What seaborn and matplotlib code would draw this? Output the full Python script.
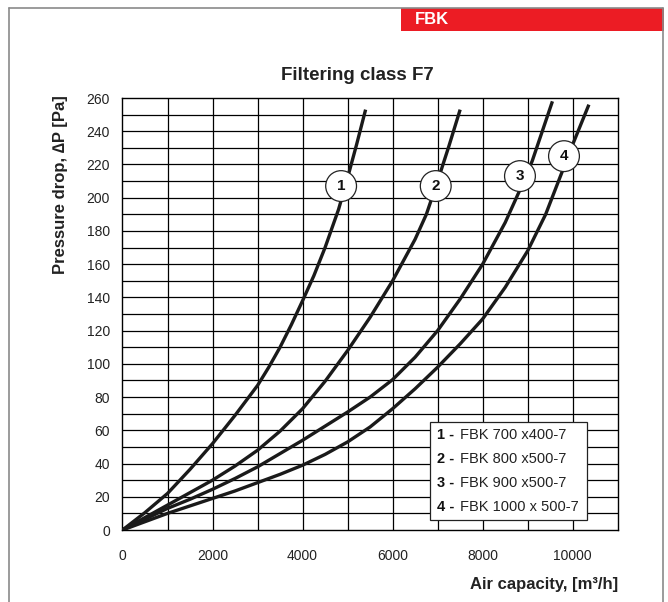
import matplotlib
matplotlib.use("Agg")
import matplotlib.pyplot as plt
import seaborn as sns
import pandas as pd
from matplotlib.lines import Line2D
from matplotlib.patches import Rectangle

# ---- data ----
curve1_x = [0, 500, 1000, 1500, 2000, 2500, 3000, 3250, 3500, 3750, 4000, 4250, 4500, 4800, 5000,
            5200, 5400]
curve1_y = [0, 10.5, 22, 36.5, 52, 69, 87, 98, 110, 123.5, 138, 153, 170, 193, 212, 232, 253]
curve2_x = [0, 500, 1000, 1500, 2000, 2500, 3000, 3500, 4000, 4500, 5000, 5500, 6000, 6500, 6750,
            7000, 7250, 7500]
curve2_y = [0, 7.5, 15, 22.5, 30, 38.5, 48, 59.5, 73, 89.5, 108, 128, 150, 175, 190, 210, 231, 253]
curve3_x = [0, 500, 1000, 1500, 2000, 2500, 3000, 3500, 4000, 4500, 5000, 5500, 6000, 6500, 7000,
            7500, 8000, 8500, 8800, 9100, 9550]
curve3_y = [0, 6.5, 13, 18.5, 24.5, 31, 38, 46, 54, 62.5, 71, 80, 90.5, 104, 120, 139, 160, 185,
            203, 222, 258]
curve4_x = [0, 500, 1000, 1500, 2000, 2500, 3000, 3500, 4000, 4500, 5000, 5500, 6000, 6500, 7000,
            7500, 8000, 8500, 9000, 9400, 9700, 10000, 10360]
curve4_y = [0, 5, 10, 14.5, 19, 23.5, 28.5, 33.5, 39, 45.5, 53, 62, 73, 85, 98, 112, 127, 146, 168,
            190, 211, 232, 256]

curve_ids = ["1", "2", "3", "4"]
curve_names = ["FBK 700 x400-7", "FBK 800 x500-7", "FBK 900 x500-7", "FBK 1000 x 500-7"]
label_x = [4856, 6958, 8829, 9807]
label_y = [207, 207, 213, 225]

x_ticks = [0, 2000, 4000, 6000, 8000, 10000]
y_ticks = list(range(0, 261, 20))

title = "Filtering class F7"
x_label = "Air capacity, [m³/h]"
y_label = "Pressure drop, ∆P [Pa]"
brand = "FBK"

# ---- build long table ----
rows = []
for cid, xs, ys in zip(curve_ids, [curve1_x, curve2_x, curve3_x, curve4_x],
                       [curve1_y, curve2_y, curve3_y, curve4_y]):
    for xv, yv in zip(xs, ys):
        rows.append({"curve": cid, "x": xv, "y": yv})
df = pd.DataFrame(rows)

sns.set_style("white")
plt.rcParams["font.family"] = ["Liberation Sans", "DejaVu Sans"]

W, H = 668, 602
fig = plt.figure(figsize=(W / 100, H / 100), dpi=100)
L, R, T, B = 122.5, 617.7, 98, 530
ax = fig.add_axes([L / W, 1 - B / H, (R - L) / W, (B - T) / H])

# grid
for gx in range(1000, 11000, 1000):
    ax.axvline(gx, color="black", lw=0.9, zorder=1)
for gy in range(10, 260, 10):
    ax.axhline(gy, color="black", lw=0.9, zorder=1)

sns.lineplot(data=df, x="x", y="y", hue="curve", palette=["#1a1a1a"] * 4,
             sort=False, estimator=None, legend=False, lw=2.4, ax=ax, zorder=3)
for ln in ax.lines:
    ln.set_solid_joinstyle("round")
    ln.set_solid_capstyle("butt")

ax.set_xlim(0, 11000)
ax.set_ylim(0, 260)
ax.set_xticks(x_ticks)
ax.set_yticks(y_ticks)
ax.set_xticklabels([str(v) for v in x_ticks], fontsize=10, color="#222222")
ax.set_yticklabels([str(v) for v in y_ticks], fontsize=10, color="#222222")
ax.tick_params(axis="both", direction="out", length=5, width=0.9, color="black", pad=9)
ax.tick_params(axis="y", pad=4)
for sp in ax.spines.values():
    sp.set_color("black")
    sp.set_linewidth(1.0)
ax.set_xlabel("")
ax.set_ylabel("")

# circled labels
for cid, lx, ly in zip(curve_ids, label_x, label_y):
    ax.text(lx, ly, cid, ha="center", va="center", fontsize=11, fontweight="bold",
            color="#111111", zorder=5,
            bbox=dict(boxstyle="circle,pad=0.55", fc="white", ec="#222222", lw=0.9))

# legend box drawn by hand (bold numbers, regular names)
def px_to_ax(xp, yp):
    return (xp - L) / (R - L), (B - yp) / (B - T)

bx0, by0 = px_to_ax(430, 520)
bx1, by1 = px_to_ax(587, 422)
ax.add_patch(Rectangle((bx0, by0), bx1 - bx0, by1 - by0, transform=ax.transAxes,
                       fc="white", ec="#222222", lw=0.9, zorder=6))
for i, (cid, nm) in enumerate(zip(curve_ids, curve_names)):
    yp = 435 + i * 24
    xa, ya = px_to_ax(437, yp)
    ax.text(xa, ya, cid + " -", transform=ax.transAxes, ha="left", va="center",
            fontsize=10.5, fontweight="bold", color="#111111", zorder=7)
    xb, _ = px_to_ax(459.5, yp)
    ax.text(xb, ya, nm, transform=ax.transAxes, ha="left", va="center",
            fontsize=10.5, color="#222222", zorder=7)

# texts
fig.text(357 / W, 1 - 76 / H, title, ha="center", va="center", fontsize=13.5, fontweight="bold",
         color="#222222")
fig.text(618 / W, 1 - 584 / H, x_label, ha="right", va="center", fontsize=12,
         fontweight="bold", color="#222222")
fig.text(60 / W, 1 - 185 / H, y_label, ha="center", va="center", rotation=90, fontsize=12,
         fontweight="bold", color="#222222")

# frame and red brand box
for xs_, ys_ in [([9, 9], [602, 8]), ([9, 663], [8, 8]), ([663, 663], [602, 8])]:
    fig.add_artist(Line2D([v / W for v in xs_], [1 - v / H for v in ys_], color="#8a8a8a",
                          lw=1.2, transform=fig.transFigure))
fig.add_artist(Rectangle((401 / W, 1 - 31 / H), (664 - 401) / W, 23 / H, color="#ec1c24",
                         transform=fig.transFigure, lw=0))
fig.text(415 / W, 1 - 19.5 / H, brand, ha="left", va="center", fontsize=12, fontweight="bold",
         color="white")

fig.savefig("out.png", dpi=100)
